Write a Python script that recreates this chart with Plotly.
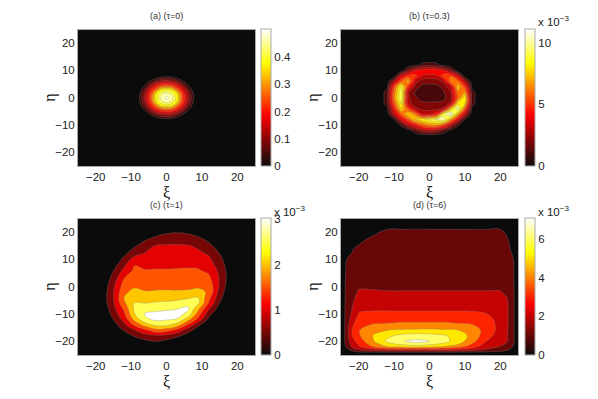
import plotly.graph_objects as go

# the page body adds an 8 px margin around the figure
PAGE = 8
W, H = 598 - PAGE, 399 - PAGE

hot = [[0, '#0b0b0b'], [0.375, '#ff0000'], [0.75, '#ffff00'], [1, '#ffffff']]
ticks = [-20, -10, 0, 10, 20]

# panel a
xi_a = [-9, -7.5, -6, -4.5, -3, -1.5, 0, 1.5, 3, 4.5, 6, 7.5, 9]
eta_a = [9, 7.5, 6, 4.5, 3, 1.5, 0, -1.5, -3, -4.5, -6, -7.5, -9]
z_a = [
    [.001, .001, .001, .001, .002, .003, .004, .003, .002, .001, .001, .001, .001],
    [.001, .001, .002, .006, .020, .040, .045, .040, .020, .006, .002, .001, .001],
    [.001, .002, .010, .045, .090, .130, .140, .130, .090, .045, .010, .002, .001],
    [.001, .006, .045, .115, .190, .235, .250, .235, .190, .115, .045, .006, .001],
    [.002, .020, .090, .190, .270, .360, .380, .360, .270, .190, .090, .020, .002],
    [.003, .040, .130, .235, .360, .430, .460, .430, .360, .235, .130, .040, .003],
    [.004, .045, .140, .250, .380, .460, .490, .460, .380, .250, .140, .045, .004],
    [.003, .040, .130, .235, .360, .430, .460, .430, .360, .235, .130, .040, .003],
    [.002, .020, .090, .190, .270, .360, .380, .360, .270, .190, .090, .020, .002],
    [.001, .006, .045, .115, .190, .235, .250, .235, .190, .115, .045, .006, .001],
    [.001, .002, .010, .045, .090, .130, .140, .130, .090, .045, .010, .002, .001],
    [.001, .001, .002, .006, .020, .040, .045, .040, .020, .006, .002, .001, .001],
    [.001, .001, .001, .001, .002, .003, .004, .003, .002, .001, .001, .001, .001],
]

# panel b (x 10^-3)
xi_b = [-14, -12, -10, -8, -6, -4, -2, 0, 2, 4, 6, 8, 10, 12, 14]
eta_b = [14, 12, 10, 8, 6, 4, 2, 0, -2, -4, -6, -8, -10, -12, -14]
z_b = [
    [0, 0, 0, 0, 0, 0, 0, 0, 0, 0, 0, 0, 0, 0, 0],
    [0, 0, 0, 0, 0, .44, 1.2, 1.48, 1.2, .44, 0, 0, 0, 0, 0],
    [0, 0, 0, .1, 2.28, 3.75, 4.36, 4.7, 4.5, 3.75, 2.28, .1, 0, 0, 0],
    [0, 0, .1, 3.64, 5.2, 5.2, 3.7, 3.4, 3.7, 5.5, 5.7, 3.64, .1, 0, 0],
    [0, 0, 3.05, 5.8, 7.2, 3.4, 2.2, 2.1, 2.2, 3.1, 6.5, 6.2, 3.05, 0, 0],
    [0, .5, 5.5, 9, 5, 2.3, 1.5, 1.5, 1.5, 2.1, 3.5, 7.5, 5.4, .5, 0],
    [0, 1.3, 6.2, 9.6, 3, 1.6, 1.5, 1.5, 1.5, 1.7, 2.8, 6.5, 6.8, 1.3, 0],
    [0, 1.4, 6.5, 9.8, 3, 1.9, 1.5, 1.5, 1.5, 1.5, 2.5, 6, 8.6, 1.4, 0],
    [0, 1.3, 5.7, 9, 3.2, 2.3, 1.9, 1.9, 1.9, 2.1, 3, 8.2, 8, 1.3, 0],
    [0, .6, 4.5, 8, 5.5, 3, 2.5, 2.4, 2.5, 3, 7.5, 10.5, 5.8, .6, 0],
    [0, 0, 3.3, 5.8, 7.8, 6.5, 3.6, 3.6, 4.5, 9.3, 11.2, 7, 3.3, 0, 0],
    [0, 0, .6, 3.8, 5.7, 8, 8.5, 9.2, 9.9, 10.4, 7, 3.8, .6, 0, 0],
    [0, 0, 0, 1, 3.3, 4.4, 5.9, 6.6, 6.8, 5.5, 3.3, 1, 0, 0, 0],
    [0, 0, 0, 0, .3, 1.6, 2.85, 3.34, 2.85, 1.6, .3, 0, 0, 0, 0],
    [0, 0, 0, 0, 0, 0, 0, 0, 0, 0, 0, 0, 0, 0, 0],
]

# panel c (x 10^-3)
xi_c = [-18, -15, -12, -9, -6, -3, 0, 3, 6, 9, 12, 15, 18]
eta_c = [21, 18, 15, 12, 9, 6, 3, 0, -2, -4, -6, -8, -10, -12, -14, -16, -18, -20, -22]
z_c = [
    [0, 0, 0, 0, 0, .16, .28, .33, .29, .19, 0, 0, 0],
    [0, 0, 0, .07, .35, .56, .70, .74, .68, .53, .31, .03, 0],
    [0, 0, .05, .43, .77, 1.02, 1.05, 1.05, 1.03, .92, .62, .26, 0],
    [0, 0, .39, .85, 1.05, 1.13, 1.18, 1.2, 1.2, 1.1, .95, .5, .02],
    [0, .19, .76, 1.42, 1.28, 1.35, 1.35, 1.37, 1.38, 1.38, 1.15, .71, .15],
    [0, .48, 1.12, 1.6, 1.53, 1.53, 1.53, 1.54, 1.55, 1.53, 1.4, .87, .22],
    [.01, .73, 1.5, 1.78, 1.68, 1.7, 1.72, 1.72, 1.73, 1.72, 1.6, .95, .23],
    [.14, .91, 1.75, 1.96, 1.85, 1.9, 1.9, 1.9, 1.9, 1.92, 1.85, .91, .14],
    [.2, .97, 1.92, 2.12, 2.05, 2.06, 2.07, 2.06, 2.08, 2.2, 1.9, .81, .04],
    [.22, .98, 2.0, 2.3, 2.25, 2.3, 2.3, 2.35, 2.42, 2.5, 1.65, .66, 0],
    [.19, .93, 1.9, 2.52, 2.5, 2.55, 2.6, 2.65, 2.8, 2.6, 1.45, .47, 0],
    [.1, .83, 1.6, 2.62, 2.8, 2.85, 2.92, 2.97, 3.1, 2.1, 1.05, .25, 0],
    [0, .69, 1.42, 2.48, 3.05, 3.12, 3.15, 3.2, 2.85, 1.75, .67, 0, 0],
    [0, .5, 1.17, 2.15, 2.9, 3.1, 3.05, 2.95, 2.2, 1.35, .35, 0, 0],
    [0, .28, .84, 1.6, 2.2, 2.6, 2.6, 2.25, 1.45, .6, 0, 0, 0],
    [0, 0, .52, .93, 1.35, 1.8, 1.7, 1.3, .68, .2, 0, 0, 0],
    [0, 0, .2, .55, .79, .89, .8, .6, .26, 0, 0, 0, 0],
    [0, 0, 0, .16, .37, .5, .36, .14, 0, 0, 0, 0, 0],
    [0, 0, 0, 0, 0, 0, 0, 0, 0, 0, 0, 0, 0],
]

# panel d (x 10^-3)
xi_d = [-25, -24, -22, -20, -16, -12, -8, -4, 0, 4, 8, 12, 16, 20, 22, 24, 25]
eta_d = [24, 22, 21, 18, 14, 10, 5, 0, -2, -5, -8, -10, -12, -14, -16, -18, -20, -21, -22, -23, -24, -25]
z_d = [
    [.1, .1, .1, .1, .1, .1, .1, .1, .1, .1, .1, .1, .1, .1, .1, .1, .1],
    [.1, .1, .1, .1, .3, .4, .45, .5, .5, .48, .48, .45, .45, .35, .1, .1, .1],
    [.1, .1, .1, .2, .65, 1.0, 1.03, 1.05, 1.04, 1.03, 1.03, 1.0, 1.0, 1.0, .3, .1, .1],
    [.1, .2, .3, .7, 1.1, 1.13, 1.14, 1.15, 1.15, 1.14, 1.14, 1.13, 1.13, 1.12, 1.02, .2, .1],
    [.1, .75, .93, 1.15, 1.22, 1.25, 1.25, 1.25, 1.25, 1.25, 1.25, 1.25, 1.25, 1.22, 1.12, .8, .1],
    [.1, .95, 1.1, 1.3, 1.38, 1.4, 1.4, 1.4, 1.4, 1.4, 1.4, 1.4, 1.4, 1.35, 1.25, .95, .1],
    [.1, .95, 1.25, 1.5, 1.6, 1.6, 1.6, 1.6, 1.6, 1.6, 1.6, 1.6, 1.6, 1.55, 1.4, .95, .1],
    [.1, .95, 1.45, 1.9, 1.88, 1.85, 1.85, 1.85, 1.85, 1.85, 1.85, 1.85, 1.85, 1.85, 1.65, .95, .1],
    [.1, .95, 1.55, 2.1, 2.1, 2.05, 2.05, 2.05, 2.05, 2.05, 2.05, 2.05, 2.05, 2.05, 1.85, .95, .1],
    [.1, .95, 1.75, 2.5, 2.5, 2.45, 2.45, 2.45, 2.45, 2.45, 2.45, 2.45, 2.4, 2.3, 2.05, .95, .1],
    [.1, .95, 1.93, 2.85, 2.88, 2.85, 2.85, 2.85, 2.85, 2.85, 2.85, 2.85, 2.75, 2.45, 2.1, .95, .1],
    [.1, .95, 2.1, 3.05, 3.15, 3.2, 3.2, 3.2, 3.2, 3.2, 3.2, 3.15, 3.03, 2.55, 2.1, .95, .1],
    [.1, .95, 2.4, 3.4, 3.6, 3.65, 3.7, 3.7, 3.7, 3.7, 3.65, 3.55, 3.35, 2.65, 2.1, .95, .1],
    [.1, .95, 2.7, 3.7, 4.1, 4.15, 4.3, 4.3, 4.3, 4.3, 4.15, 4.05, 3.6, 2.65, 2.1, .95, .1],
    [.1, .95, 2.95, 3.95, 4.6, 5.0, 5.15, 5.2, 5.25, 5.15, 5.05, 4.45, 3.7, 2.6, 2.05, .95, .1],
    [.1, .95, 2.9, 3.85, 5.05, 5.75, 6.3, 6.6, 6.4, 6.15, 5.6, 4.7, 3.4, 2.5, 2.05, .95, .1],
    [.1, .95, 2.55, 3.4, 4.85, 6.2, 6.95, 7.15, 7.0, 6.35, 5.5, 4.35, 3.0, 2.3, 2.0, .95, .1],
    [.1, .9, 2.25, 3.15, 4.5, 5.6, 6.2, 6.7, 6.25, 5.8, 5.1, 3.95, 2.7, 2.15, 1.9, .85, .1],
    [.1, .8, 2.0, 2.8, 4.0, 4.9, 5.1, 5.3, 5.15, 4.85, 4.4, 3.4, 2.4, 1.95, 1.7, .75, .1],
    [.1, .5, 1.3, 2.0, 2.6, 2.9, 3.0, 3.0, 3.0, 2.9, 2.8, 2.4, 1.9, 1.5, 1.2, .45, .1],
    [.1, .2, .6, .85, .9, .9, .9, .9, .9, .9, .9, .85, .8, .7, .55, .2, .1],
    [.1, .1, .2, .25, .3, .3, .3, .3, .3, .3, .3, .3, .25, .2, .15, .1, .1],
]

panels = [
    dict(x=xi_a, y=eta_a, z=z_a, zmax=.503, start=.04, end=.48, size=.04, cbticks=[0, .1, .2, .3, .4],
         title='(a) (τ=0)', left=78, top=29.5, cb=261, power=False),
    dict(x=xi_b, y=eta_b, z=z_b, zmax=11.1, start=.8, end=10.8, size=1, cbticks=[0, 5, 10],
         title='(b) (τ=0.3)', left=341, top=29.5, cb=524.5, power=True),
    dict(x=xi_c, y=eta_c, z=z_c, zmax=3.03, start=.5, end=3, size=.5, cbticks=[0, 1, 2, 3],
         title='(c) (τ=1)', left=78, top=218.5, cb=261, power=True),
    dict(x=xi_d, y=eta_d, z=z_d, zmax=7.07, start=1, end=7, size=1, cbticks=[0, 2, 4, 6],
         title='(d) (τ=6)', left=341, top=218.5, cb=524.5, power=True),
]

fig = go.Figure()
pw, ph = 177, 136.5
font = dict(family='Liberation Sans', size=11.5, color='#222222')
notes = []


def fx(px):
    return (px - PAGE) / W


def fy(px):
    return 1 - (px - PAGE) / H


for i, p in enumerate(panels):
    n = '' if i == 0 else str(i + 1)
    xa, ya = 'x' + n, 'y' + n
    xs, ys, zs = p['x'], p['y'][::-1], p['z'][::-1]
    y0, y1 = fy(p['top'] + ph), fy(p['top'])

    # invisible heatmap only carries the continuous colorbar
    fig.add_trace(go.Heatmap(x=xs, y=ys, z=zs, xaxis=xa, yaxis=ya, opacity=0, hoverinfo='skip',
                             colorscale=hot, zmin=0, zmax=p['zmax'],
                             colorbar=dict(x=fx(p['cb']), xanchor='left', xpad=0, ypad=0, y=y0, yanchor='bottom',
                                           len=ph / H, lenmode='fraction', thickness=9.5,
                                           outlinecolor='#aaaaaa', outlinewidth=1,
                                           tickvals=p['cbticks'], ticktext=[str(t) for t in p['cbticks']],
                                           ticks='', tickfont=font)))
    fig.add_trace(go.Contour(x=xs, y=ys, z=zs, xaxis=xa, yaxis=ya, showscale=False,
                             colorscale=hot, zmin=0, zmax=p['zmax'],
                             contours=dict(start=p['start'], end=p['end'], size=p['size'], coloring='fill'),
                             line=dict(color='rgba(130,130,130,0.55)', width=0.6, smoothing=1.3)))

    axis = dict(range=[-25, 25], tickvals=ticks, showgrid=False, zeroline=False, ticks='',
                showline=True, mirror=True, linecolor='#aaaaaa', linewidth=1, tickfont=font)
    fig.layout['xaxis' + n] = go.layout.XAxis(axis, domain=[fx(p['left']), fx(p['left'] + pw)], anchor=ya)
    fig.layout['yaxis' + n] = go.layout.YAxis(axis, domain=[y0, y1], anchor=xa)

    cx = fx(p['left'] + pw / 2)
    notes.append(dict(text=p['title'], x=cx, y=fy(p['top'] - 13.5),
                      font=dict(family='Liberation Sans', size=9, color='#333333')))
    notes.append(dict(text='ξ', x=cx, y=fy(p['top'] + ph + 26),
                      font=dict(family='Liberation Serif', size=16, color='#111111')))
    notes.append(dict(text='η', x=fx(p['left'] - 28), y=(y0 + y1) / 2, textangle=-90,
                      font=dict(family='Liberation Serif', size=16, color='#111111')))
    if p['power']:
        notes.append(dict(text='x 10<sup>−3</sup>', x=fx(p['cb'] + 11), y=fy(p['top'] - 8), font=font))

for a in notes:
    a.update(xref='paper', yref='paper', showarrow=False, xanchor='center', yanchor='middle')
    if 'x 10' in a['text']:
        a.update(xanchor='left')

fig.update_layout(width=W, height=H, margin=dict(l=0, r=0, t=0, b=0), paper_bgcolor='white',
                  plot_bgcolor='#0b0b0b', annotations=notes, showlegend=False)

fig.write_html("out.html")
